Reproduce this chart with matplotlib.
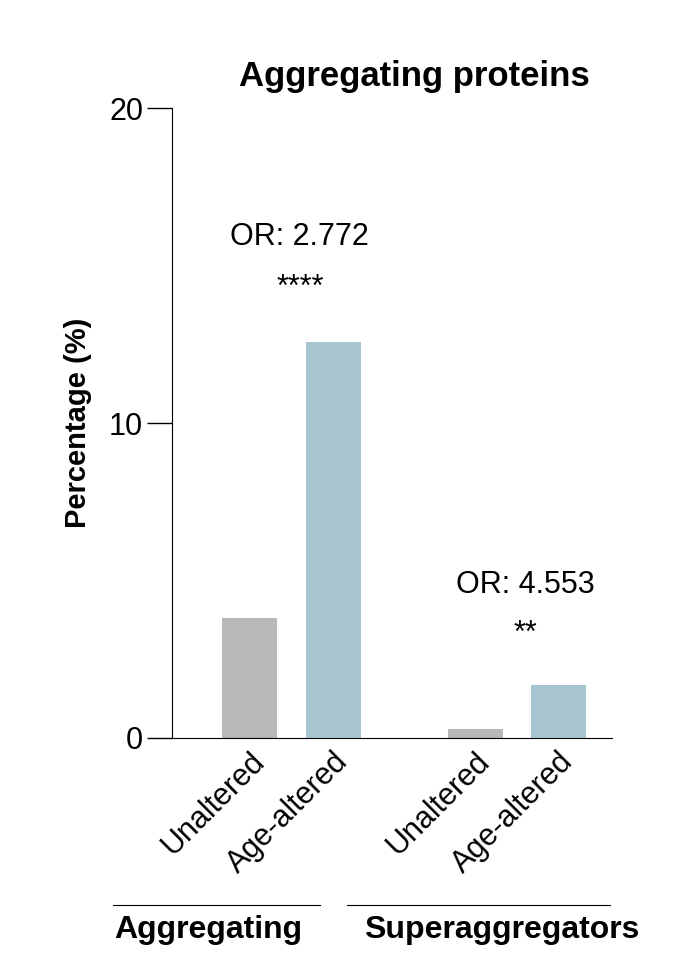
import matplotlib
matplotlib.use("Agg")
import matplotlib.pyplot as plt

plt.rcParams["font.family"] = ["Liberation Sans", "DejaVu Sans"]

categories = ["Unaltered", "Age-altered", "Unaltered", "Age-altered"]
positions = [0, 1, 2.7, 3.7]
values = [3.8, 12.57, 0.29, 1.68]
colors = ["#b8b8b8", "#a7c6d0", "#b8b8b8", "#a7c6d0"]
groups = ["Aggregating", "Superaggregators"]
or_labels = ["OR: 2.772", "OR: 4.553"]
stars = ["****", "**"]
or_y = [15.9, 4.85]
star_y = [14.3, 3.3]

fig = plt.figure(figsize=(6.89, 9.67), dpi=100)
ax = fig.add_axes([0.25, 0.237, 0.638, 0.651])
ax.bar(positions, values, width=0.66, color=colors, edgecolor="none")
ax.set_xlim(-0.93, 4.34)
ax.set_ylim(0, 20)
ax.set_yticks([0, 10, 20])
ax.tick_params(axis="y", labelsize=22, length=18, width=1, pad=3)
ax.tick_params(axis="x", length=0, pad=6)
ax.set_xticks(positions)
ax.set_xticklabels(categories, rotation=45, ha="right", rotation_mode="anchor", fontsize=22)
ax.spines["top"].set_visible(False)
ax.spines["right"].set_visible(False)
ax.set_ylabel("Percentage (%)", fontsize=21, fontweight="bold", labelpad=12)
ax.set_title("Aggregating proteins", fontsize=25, fontweight="bold", x=0.55, pad=16)

for x, o, s, oy, sy in zip([0.6, 3.3], or_labels, stars, or_y, star_y):
    ax.text(x, oy, o, ha="center", va="center", fontsize=22)
    ax.text(x, sy, s, ha="center", va="center", fontsize=22)

fig.add_artist(plt.Line2D([113 / 689, 320 / 689], [1 - 905 / 967] * 2, color="black", lw=0.8))
fig.add_artist(plt.Line2D([347 / 689, 610 / 689], [1 - 905 / 967] * 2, color="black", lw=0.8))
fig.text(208 / 689, 1 - 930 / 967, groups[0], ha="center", va="center", fontsize=23, fontweight="bold")
fig.text(502 / 689, 1 - 930 / 967, groups[1], ha="center", va="center", fontsize=23, fontweight="bold")

fig.savefig("out.png", dpi=100)
